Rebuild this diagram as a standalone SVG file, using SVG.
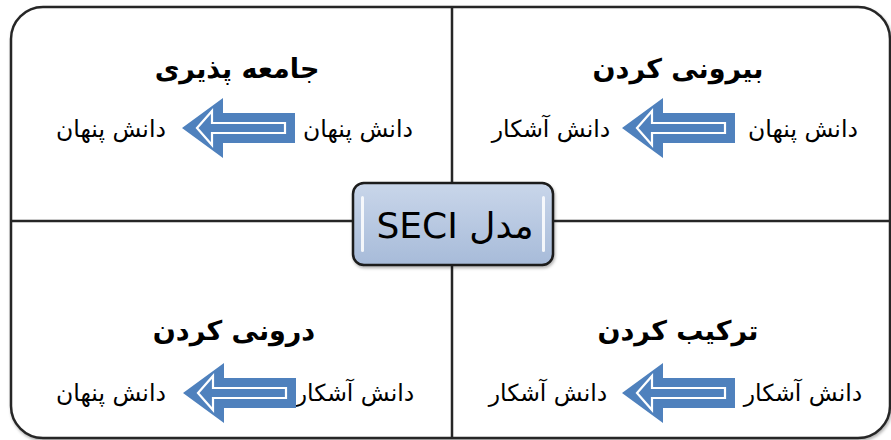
<svg xmlns="http://www.w3.org/2000/svg" width="891" height="440" viewBox="0 0 891 440">
  <style>
    .frame { fill: #ffffff; stroke: #262626; stroke-width: 2.5; }
    .divider { stroke: #262626; stroke-width: 2.5; fill: none; }
    .title { font-family: "DejaVu Sans", sans-serif; font-size: 27px; font-weight: bold; fill: #000; text-anchor: middle; }
    .label { font-family: "DejaVu Sans", sans-serif; font-size: 23.5px; fill: #000; text-anchor: middle; }
    .center-text { font-family: "DejaVu Sans", "Liberation Sans", sans-serif; font-size: 36px; fill: #000; text-anchor: middle; }
    .arrow-outer { fill: #4f81bd; }
    .arrow-inner { fill: none; stroke: #ffffff; stroke-width: 2.2; }
  </style>
  <defs>
    <linearGradient id="boxFill" x1="0" y1="0" x2="0" y2="1">
      <stop offset="0" stop-color="#c9d6ea"/>
      <stop offset="1" stop-color="#a7bbd9"/>
    </linearGradient>
    <filter id="soft" x="-10%" y="-10%" width="120%" height="130%">
      <feDropShadow dx="1" dy="2" stdDeviation="1.5" flood-color="#000" flood-opacity="0.3"/>
    </filter>
    <!-- block arrow pointing left, tip at origin -->
    <g id="blockArrow">
      <path class="arrow-outer" d="M0,0 L41,-30 L41,-15 L113,-15 L113,15 L41,15 L41,30 Z"/>
      <path class="arrow-inner" d="M15,0 L30,-17 L30,-5 L103,-5 L103,5 L30,5 L30,17 Z"/>
    </g>
  </defs>

  <!-- outer frame -->
  <g id="frame">
    <rect class="frame" x="11" y="7" width="879" height="431" rx="32" ry="32" filter="url(#soft)"/>
  </g>

  <g id="connectors">
    <line class="divider" x1="452" y1="7" x2="452" y2="438"/>
    <line class="divider" x1="11" y1="221" x2="890" y2="221"/>
  </g>

  <!-- socialization -->
  <g id="socialization">
    <text class="title" x="237" y="78" direction="rtl">جامعه پذیری</text>
    <text class="label" x="358" y="137" direction="rtl">دانش پنهان</text>
    <use href="#blockArrow" x="182" y="128"/>
    <text class="label" x="111" y="137" direction="rtl">دانش پنهان</text>
  </g>

  <!-- externalization -->
  <g id="externalization">
    <text class="title" x="678" y="78" direction="rtl">بیرونی کردن</text>
    <text class="label" x="803" y="137" direction="rtl">دانش پنهان</text>
    <use href="#blockArrow" x="622" y="128"/>
    <text class="label" x="551" y="137" direction="rtl">دانش آشکار</text>
  </g>

  <!-- internalization -->
  <g id="internalization">
    <text class="title" x="234" y="340" direction="rtl">درونی کردن</text>
    <text class="label" x="355" y="401" direction="rtl">دانش آشکار</text>
    <use href="#blockArrow" x="183" y="393"/>
    <text class="label" x="111" y="401" direction="rtl">دانش پنهان</text>
  </g>

  <!-- combination -->
  <g id="combination">
    <text class="title" x="678" y="340" direction="rtl">ترکیب کردن</text>
    <text class="label" x="803" y="401" direction="rtl">دانش آشکار</text>
    <use href="#blockArrow" x="622" y="393"/>
    <text class="label" x="548" y="401" direction="rtl">دانش آشکار</text>
  </g>

  <!-- central model box -->
  <g id="seci">
    <rect x="353" y="183" width="200" height="82" rx="11" ry="11" fill="url(#boxFill)" stroke="#1a1a1a" stroke-width="2.5" filter="url(#soft)"/>
    <rect x="361" y="196" width="3" height="56" rx="1.5" fill="#ffffff" opacity="0.85"/>
    <rect x="542" y="196" width="3" height="56" rx="1.5" fill="#ffffff" opacity="0.85"/>
    <text class="center-text" x="455" y="238" direction="rtl">مدل SECI</text>
  </g>
</svg>
